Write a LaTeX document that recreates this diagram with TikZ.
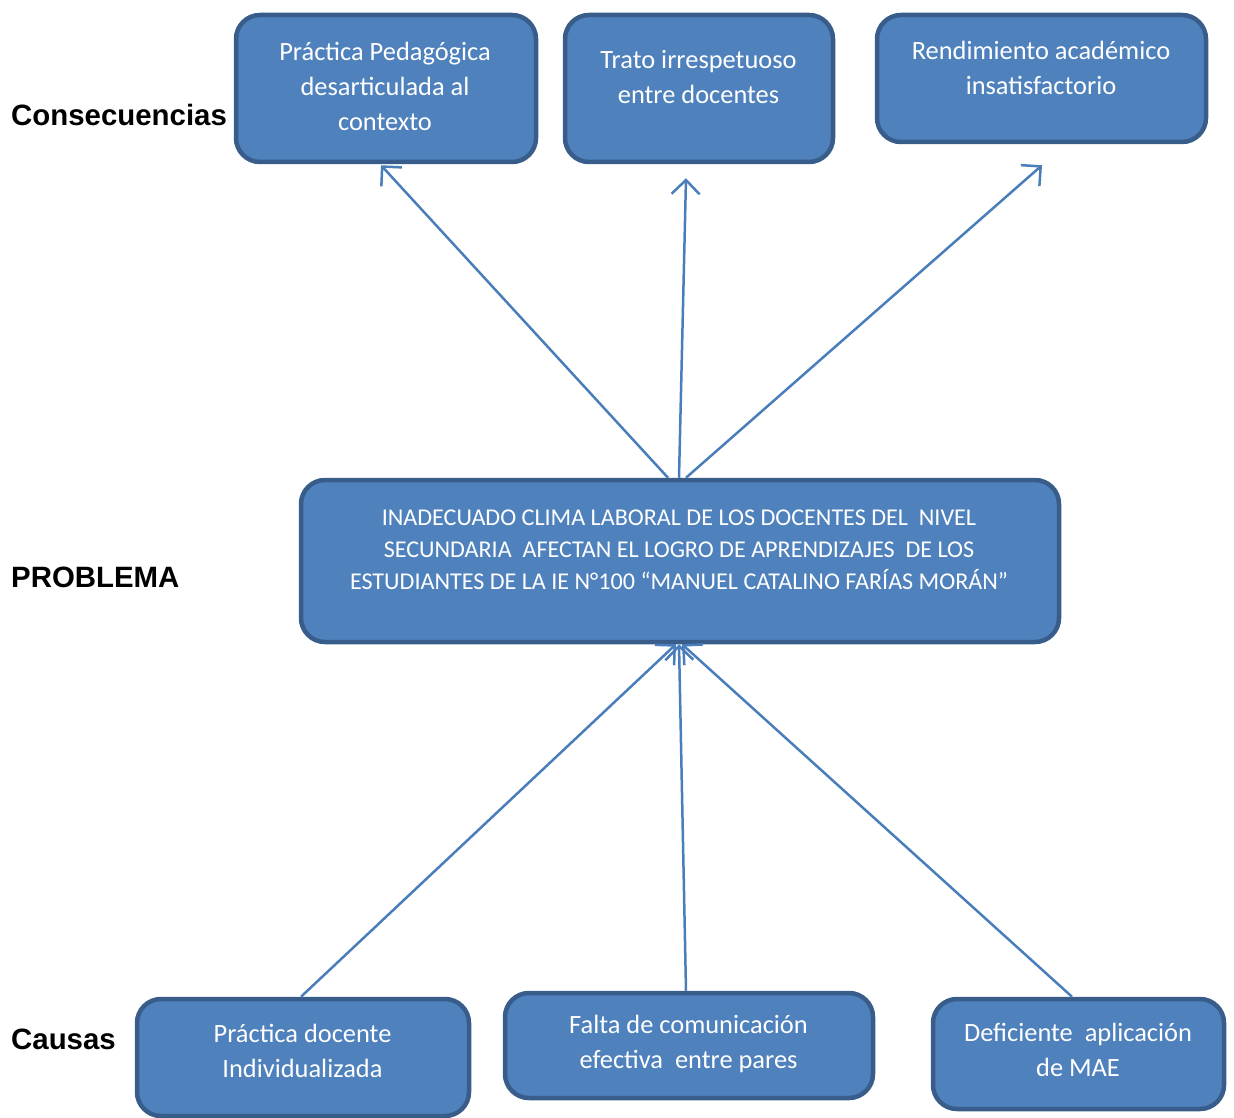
\documentclass[tikz,border=0pt]{standalone}
\usepackage{fontspec}
\setmainfont{Carlito}
\newfontfamily\tagfont{Liberation Sans}
\usepackage{tikz}
\usetikzlibrary{arrows.meta, positioning}
\definecolor{boxfill}{RGB}{79,129,189}
\definecolor{boxline}{RGB}{56,93,138}
\definecolor{arrowblue}{RGB}{74,126,187}
\tikzset{
  box/.style={draw=boxline, fill=boxfill, line width=4.5pt, rectangle, rounded corners=24pt, inner sep=0pt},
  boxtext/.style={text=white, align=center, inner sep=0pt, font=\fontsize{26.4}{35}\selectfont},
  probtext/.style={text=white, align=center, inner sep=0pt, font=\fontsize{24.1}{32}\selectfont},
  tag/.style={anchor=west, inner sep=0pt, font=\tagfont\bfseries\fontsize{29.4}{34}\selectfont},
  arrow/.style={draw=arrowblue, line width=2.5pt, -{Straight Barb[length=14pt, width=28pt, line width=2.5pt]}}
}
\begin{document}
\begin{tikzpicture}[x=1pt, y=-1pt]
  \useasboundingbox (0,0) rectangle (1234,1118);
  % Row labels
  \node[tag] (lblcons) at (11,115) {Consecuencias};
  \node[tag] (lblprob) at (11,577) {PROBLEMA};
  \node[tag] (lblcaus) at (11,1039) {Causas};

  % Consequences
  \node[box, minimum width=300pt, minimum height=147pt] (c1) at (386,88.5) {};
  \node[boxtext] (c1txt) at (385,86) {Práctica Pedagógica\\desarticulada al\\contexto};
  \node[box, minimum width=268pt, minimum height=147pt] (c2) at (699,88.5) {};
  \node[boxtext] (c2txt) at (698.5,77.5) {Trato irrespetuoso\\entre docentes};
  \node[box, minimum width=329pt, minimum height=127pt] (c3) at (1041.5,78.5) {};
  \node[boxtext] (c3txt) at (1041,67.5) {Rendimiento académico\\insatisfactorio};

  % Problem
  \node[box, minimum width=758pt, minimum height=162pt] (prob) at (680,561) {};
  \node[probtext] (probtxt) at (679,550) {INADECUADO CLIMA LABORAL DE LOS DOCENTES DEL \ NIVEL\\SECUNDARIA \ AFECTAN EL LOGRO DE APRENDIZAJES \ DE LOS\\ESTUDIANTES DE LA IE N°100 “MANUEL CATALINO FARÍAS MORÁN”};

  % Causes
  \node[box, minimum width=332pt, minimum height=117pt] (k1) at (303,1057.5) {};
  \node[boxtext] (k1txt) at (302.5,1050.5) {Práctica docente\\Individualizada};
  \node[box, minimum width=368pt, minimum height=105pt] (k2) at (689,1045.5) {};
  \node[boxtext] (k2txt) at (688.5,1043.5) {Falta de comunicación\\efectiva \ entre pares};
  \node[box, minimum width=291pt, minimum height=110pt] (k3) at (1078.5,1054) {};
  \node[boxtext] (k3txt) at (1078,1050) {Deficiente \ aplicación\\de MAE};

  % Arrows
  \draw[arrow] ([xshift=-12pt]prob.north) -- ([xshift=-5pt,yshift=-1pt]c1.south);
  \draw[arrow] ([xshift=-1pt]prob.north) -- ([xshift=-13pt,yshift=-14pt]c2.south);
  \draw[arrow] ([xshift=6pt]prob.north) -- ([xshift=0.5pt,yshift=-21pt]c3.south);
  \draw[arrow] ([xshift=-2pt]k1.north) -- ([xshift=-4pt]prob.south);
  \draw[arrow] ([xshift=-3pt]k2.north) -- ([xshift=-1pt]prob.south);
  \draw[arrow] ([xshift=-6.5pt]k3.north) -- ([xshift=2pt]prob.south);
\end{tikzpicture}
\end{document}
